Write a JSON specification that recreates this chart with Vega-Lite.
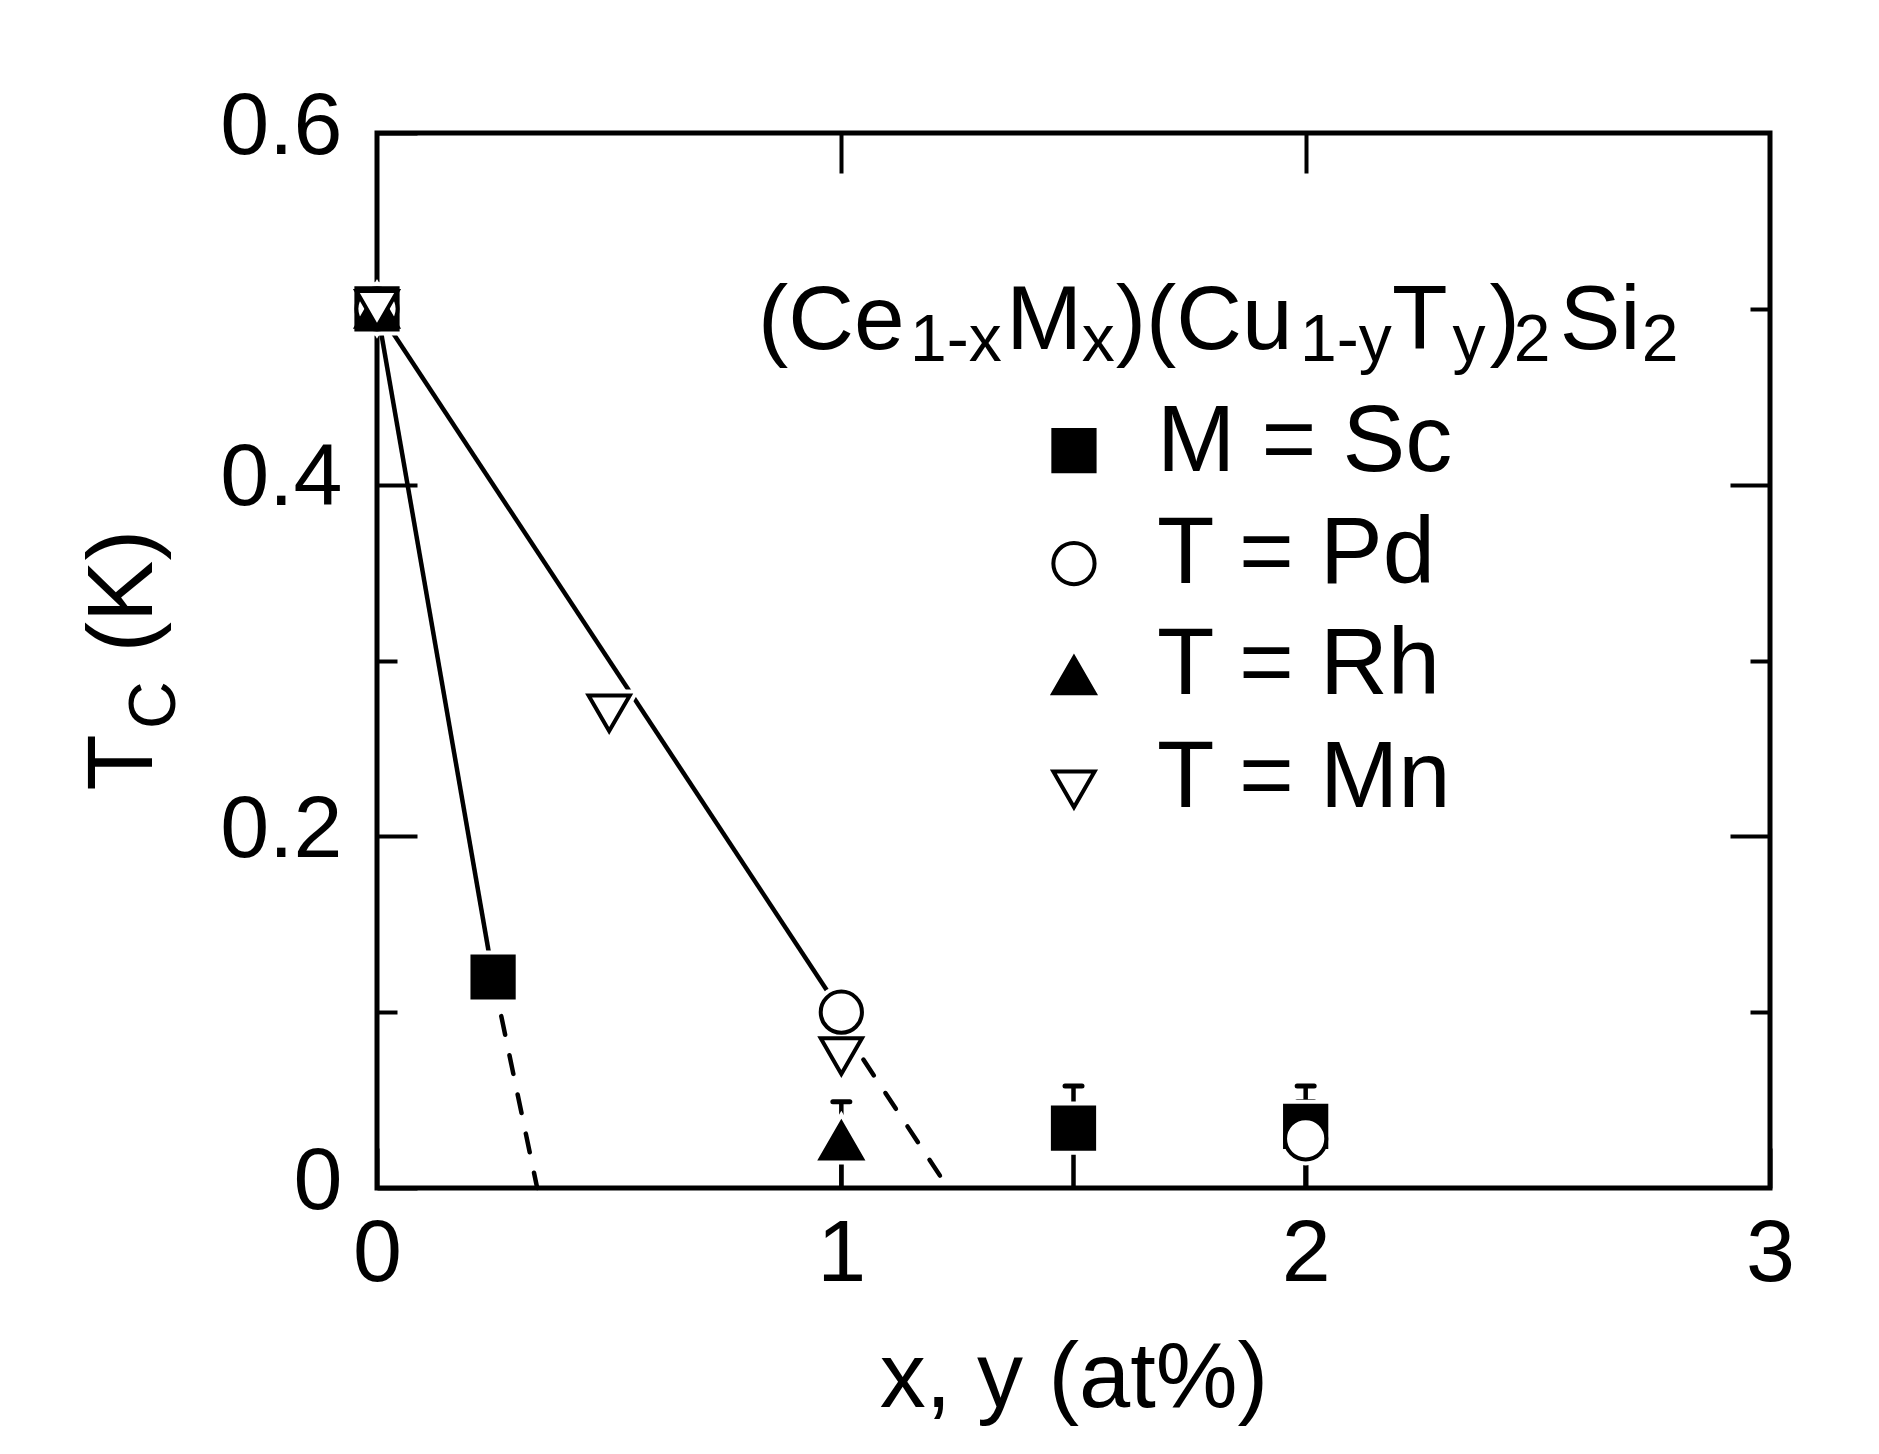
{
  "$schema": "https://vega.github.io/schema/vega-lite/v6.json",
  "width": 1393,
  "height": 1055,
  "autosize": "none",
  "padding": {"left": 377, "top": 133, "right": 109, "bottom": 266},
  "background": "white",
  "config": {
    "view": {"stroke": "black", "strokeWidth": 5},
    "axis": {
      "domain": false,
      "grid": false,
      "labelFont": "Liberation Sans",
      "labelFontSize": 88,
      "labelColor": "black",
      "tickColor": "black",
      "tickWidth": 4,
      "titleFont": "Liberation Sans",
      "titleFontSize": 92,
      "titleFontWeight": "normal",
      "titleColor": "black"
    }
  },
  "datasets": {
    "points": [
      {"series": "M = Sc", "x": 0, "y": 0.5},
      {"series": "M = Sc", "x": 0.25, "y": 0.12},
      {"series": "M = Sc", "x": 1.5, "y": 0.034},
      {"series": "M = Sc", "x": 2, "y": 0.035},
      {"series": "T = Pd", "x": 0, "y": 0.5},
      {"series": "T = Pd", "x": 1, "y": 0.1},
      {"series": "T = Pd", "x": 2, "y": 0.028},
      {"series": "T = Rh", "x": 0, "y": 0.5},
      {"series": "T = Rh", "x": 1, "y": 0.027},
      {"series": "T = Mn", "x": 0, "y": 0.5},
      {"series": "T = Mn", "x": 0.5, "y": 0.27},
      {"series": "T = Mn", "x": 1, "y": 0.075}
    ],
    "solid": [
      {"fit": "Sc", "x": 0, "y": 0.5},
      {"fit": "Sc", "x": 0.25, "y": 0.12},
      {"fit": "PdMn", "x": 0, "y": 0.5},
      {"fit": "PdMn", "x": 1, "y": 0.1}
    ],
    "dashed": [
      {"fit": "Sc", "x": 0.25, "y": 0.12},
      {"fit": "Sc", "x": 0.345, "y": 0},
      {"fit": "PdMn", "x": 1, "y": 0.092},
      {"fit": "PdMn", "x": 1.23, "y": 0}
    ],
    "errs": [
      {"series": "T = Rh", "x": 1, "lo": 0, "hi": 0.049},
      {"series": "M = Sc", "x": 1.5, "lo": 0, "hi": 0.058},
      {"series": "M = Sc", "x": 2, "lo": 0, "hi": 0.058},
      {"series": "T = Pd", "x": 2, "lo": 0, "hi": 0.049}
    ],
    "legend": [
      {"series": "M = Sc", "sx": 1.501, "sy": 0.4193, "tx": 1.68, "ty": 0.408},
      {"series": "T = Pd", "sx": 1.501, "sy": 0.3551, "tx": 1.68, "ty": 0.3443},
      {"series": "T = Rh", "sx": 1.501, "sy": 0.2915, "tx": 1.68, "ty": 0.2807},
      {"series": "T = Mn", "sx": 1.501, "sy": 0.2267, "tx": 1.68, "ty": 0.2165}
    ],
    "formula": [
      {"x": 0.8204, "y": 0.477, "t": "(Ce"},
      {"x": 1.355, "y": 0.477, "t": "M"},
      {"x": 1.591, "y": 0.477, "t": ")(Cu"},
      {"x": 2.186, "y": 0.477, "t": "T"},
      {"x": 2.396, "y": 0.477, "t": ")"},
      {"x": 2.547, "y": 0.477, "t": "Si"}
    ],
    "formsub": [
      {"x": 1.148, "y": 0.4705, "t": "1-x"},
      {"x": 1.518, "y": 0.4705, "t": "x"},
      {"x": 1.988, "y": 0.4705, "t": "1-y"},
      {"x": 2.316, "y": 0.4705, "t": "y"},
      {"x": 2.448, "y": 0.4705, "t": "2"},
      {"x": 2.724, "y": 0.4705, "t": "2"}
    ],
    "ytitle": [
      {"x": -0.4845, "y": 0.226, "t": "T"},
      {"x": -0.4845, "y": 0.3045, "t": "(K)"}
    ],
    "ytitlesub": [
      {"x": -0.435, "y": 0.261, "t": "C"}
    ]
  },
  "layer": [
    {
      "data": {"name": "solid"},
      "mark": {"type": "line", "color": "black", "strokeWidth": 4.5},
      "encoding": {
        "x": {"field": "x", "type": "quantitative",
          "scale": {"domain": [0, 3], "nice": false, "zero": false},
          "axis": {"orient": "bottom", "values": [0, 1, 2, 3], "tickSize": -40, "labelPadding": 62, "labelFlush": false, "title": "x, y (at%)", "titleY": 145, "titleBaseline": "top"}},
        "y": {"field": "y", "type": "quantitative",
          "scale": {"domain": [0, 0.6], "nice": false, "zero": false},
          "axis": {"orient": "left", "values": [0, 0.2, 0.4, 0.6], "tickSize": -40, "labelPadding": 75, "labelOffset": -6, "labelFlush": false, "labelExpr": "datum.value == 0 ? '0' : format(datum.value, '.1f')", "title": null}},
        "detail": {"field": "fit", "type": "nominal"}
      }
    },
    {
      "data": {"name": "dashed"},
      "mark": {"type": "line", "color": "black", "strokeWidth": 4.5, "strokeDash": [19, 21], "strokeCap": "round"},
      "encoding": {
        "x": {"field": "x", "type": "quantitative",
          "axis": {"orient": "top", "values": [1, 2], "tickSize": -40, "labels": false, "title": null}},
        "y": {"field": "y", "type": "quantitative",
          "axis": {"orient": "right", "values": [0.2, 0.4], "tickSize": -40, "labels": false, "title": null}},
        "detail": {"field": "fit", "type": "nominal"}
      }
    },
    {
      "data": {"name": "errs"},
      "mark": {"type": "rule", "color": "black", "strokeWidth": 4.5},
      "encoding": {
        "x": {"field": "x", "type": "quantitative", "axis": null},
        "y": {"field": "lo", "type": "quantitative",
          "axis": {"orient": "left", "values": [0.1, 0.3, 0.5], "tickSize": -20, "labels": false, "title": null}},
        "y2": {"field": "hi"}
      }
    },
    {
      "data": {"name": "errs"},
      "mark": {"type": "point", "shape": "stroke", "size": 289, "stroke": "black", "strokeWidth": 5, "strokeCap": "round", "opacity": 1},
      "encoding": {
        "x": {"field": "x", "type": "quantitative", "axis": null},
        "y": {"field": "hi", "type": "quantitative",
          "axis": {"orient": "right", "values": [0.1, 0.3, 0.5], "tickSize": -20, "labels": false, "title": null}}
      }
    },
    {
      "data": {"name": "points"},
      "mark": {"type": "point", "filled": true, "size": 1700, "fill": "white", "stroke": "white", "strokeWidth": 12, "opacity": 1},
      "encoding": {
        "x": {"field": "x", "type": "quantitative", "axis": null},
        "y": {"field": "y", "type": "quantitative", "axis": null},
        "shape": {"field": "series", "type": "nominal", "legend": null,
          "scale": {"domain": ["M = Sc", "T = Pd", "T = Rh", "T = Mn"], "range": ["square", "circle", "triangle-up", "triangle-down"]}}
      }
    },
    {
      "data": {"name": "points"},
      "mark": {"type": "point", "filled": true, "size": 1700, "stroke": "black", "strokeWidth": 4, "opacity": 1},
      "encoding": {
        "x": {"field": "x", "type": "quantitative", "axis": null},
        "y": {"field": "y", "type": "quantitative", "axis": null},
        "shape": {"field": "series", "type": "nominal", "legend": null},
        "fill": {"field": "series", "type": "nominal", "legend": null,
          "scale": {"domain": ["M = Sc", "T = Pd", "T = Rh", "T = Mn"], "range": ["black", "white", "black", "white"]}}
      }
    },
    {
      "data": {"name": "legend"},
      "mark": {"type": "point", "filled": true, "size": 1700, "stroke": "black", "strokeWidth": 4, "opacity": 1},
      "encoding": {
        "x": {"field": "sx", "type": "quantitative", "axis": null},
        "y": {"field": "sy", "type": "quantitative", "axis": null},
        "shape": {"field": "series", "type": "nominal", "legend": null},
        "fill": {"field": "series", "type": "nominal", "legend": null}
      }
    },
    {
      "data": {"name": "legend"},
      "mark": {"type": "text", "font": "Liberation Sans", "fontSize": 94, "align": "left", "baseline": "alphabetic", "color": "black"},
      "encoding": {
        "x": {"field": "tx", "type": "quantitative", "axis": null},
        "y": {"field": "ty", "type": "quantitative", "axis": null},
        "text": {"field": "series"}
      }
    },
    {
      "data": {"name": "formula"},
      "mark": {"type": "text", "font": "Liberation Sans", "fontSize": 91, "align": "left", "baseline": "alphabetic", "color": "black"},
      "encoding": {
        "x": {"field": "x", "type": "quantitative", "axis": null},
        "y": {"field": "y", "type": "quantitative", "axis": null},
        "text": {"field": "t"}
      }
    },
    {
      "data": {"name": "formsub"},
      "mark": {"type": "text", "font": "Liberation Sans", "fontSize": 66, "align": "left", "baseline": "alphabetic", "color": "black"},
      "encoding": {
        "x": {"field": "x", "type": "quantitative", "axis": null},
        "y": {"field": "y", "type": "quantitative", "axis": null},
        "text": {"field": "t"}
      }
    },
    {
      "data": {"name": "ytitle"},
      "mark": {"type": "text", "font": "Liberation Sans", "fontSize": 92, "align": "left", "baseline": "alphabetic", "angle": 270, "color": "black"},
      "encoding": {
        "x": {"field": "x", "type": "quantitative", "axis": null},
        "y": {"field": "y", "type": "quantitative", "axis": null},
        "text": {"field": "t"}
      }
    },
    {
      "data": {"name": "ytitlesub"},
      "mark": {"type": "text", "font": "Liberation Sans", "fontSize": 66, "align": "left", "baseline": "alphabetic", "angle": 270, "color": "black"},
      "encoding": {
        "x": {"field": "x", "type": "quantitative", "axis": null},
        "y": {"field": "y", "type": "quantitative", "axis": null},
        "text": {"field": "t"}
      }
    }
  ],
  "resolve": {"axis": {"x": "independent", "y": "independent"}}
}
